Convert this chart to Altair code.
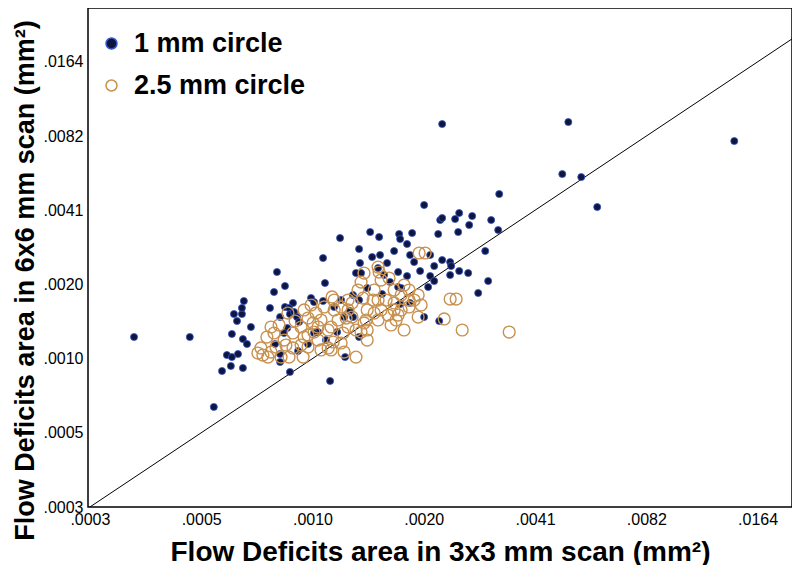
import altair as alt
import pandas as pd

# ---------------- data (mm^2) ----------------
series_names = ["1 mm circle", "2.5 mm circle"]
tick_values = [0.000256, 0.000512, 0.001024, 0.002048, 0.004096, 0.008192, 0.016384]
x_domain = [0.000253, 0.0203]
y_domain = [0.000256, 0.0271]
identity_vals = [0.00025, 0.03]

one_mm_x = [
    0.000477, 0.000583, 0.000601, 0.000620, 0.000616, 0.000644, 0.000664, 0.000620, 0.000640, 0.000628,
    0.000660, 0.000660, 0.000668, 0.000664, 0.000681, 0.000698, 0.000786, 0.000806, 0.000821, 0.000863,
    0.000863, 0.000907, 0.000885, 0.000837, 0.000890, 0.000913, 0.000930, 0.000942, 0.000875, 0.000858,
    0.000811, 0.000837, 0.000837, 0.000890, 0.000936, 0.000996, 0.001015, 0.001034, 0.001094, 0.001107,
    0.001094, 0.001060, 0.001034, 0.001114, 0.001143, 0.001216, 0.001172, 0.001224, 0.001247, 0.001194,
    0.001255, 0.001369, 0.001377, 0.001343, 0.001386, 0.001318, 0.001440, 0.001369, 0.001294, 0.001318,
    0.001369, 0.001467, 0.001485, 0.001560, 0.001551, 0.001541, 0.001630, 0.001600, 0.001580, 0.001661,
    0.001703, 0.001757, 0.001768, 0.001846, 0.001905, 0.001881, 0.001746, 0.001846, 0.001746, 0.001779,
    0.001929, 0.002002, 0.002132, 0.002186, 0.002132, 0.002186, 0.002105, 0.002053, 0.002241, 0.002269,
    0.002297, 0.002490, 0.002554, 0.002769, 0.002718, 0.002538, 0.002297, 0.002414, 0.002414, 0.002554,
    0.002701, 0.002429, 0.001768, 0.001881, 0.002053, 0.002255, 0.002875, 0.003059, 0.003004, 0.003117,
    0.003256, 0.000337, 0.000554, 0.002297, 0.005040, 0.004854, 0.005463, 0.006034, 0.014170, 0.003277,
]
one_mm_y = [
    0.001253, 0.000912, 0.001059, 0.001039, 0.000956, 0.001069, 0.000938, 0.001289, 0.001455, 0.001553,
    0.001553, 0.001644, 0.001754, 0.001229, 0.001174, 0.001376, 0.001644, 0.001908, 0.002300, 0.002018,
    0.001659, 0.001722, 0.001644, 0.001510, 0.001553, 0.001583, 0.001510, 0.001442, 0.001363, 0.001301,
    0.001174, 0.001069, 0.000992, 0.000904, 0.001100, 0.001174, 0.001803, 0.001737, 0.002621, 0.002075,
    0.001754, 0.001313, 0.001301, 0.001218, 0.000831, 0.003160, 0.001659, 0.001770, 0.001510, 0.001313,
    0.001039, 0.002851, 0.002501, 0.002278, 0.002278, 0.001855, 0.001981, 0.001770, 0.001598, 0.001510,
    0.001253, 0.003341, 0.002646, 0.002696, 0.003189, 0.002387, 0.002501, 0.002236, 0.001872, 0.002094,
    0.002798, 0.003280, 0.003130, 0.002988, 0.003310, 0.002696, 0.002300, 0.002215, 0.001999, 0.001981,
    0.002524, 0.002321, 0.002696, 0.002432, 0.002215, 0.002114, 0.001999, 0.004300, 0.003280, 0.003738,
    0.003809, 0.003773, 0.003990, 0.003879, 0.003568, 0.003341, 0.002572, 0.002524, 0.002236, 0.002321,
    0.002278, 0.002432, 0.001706, 0.001722, 0.001510, 0.001455, 0.001890, 0.002114, 0.002798, 0.003738,
    0.003404, 0.001253, 0.000652, 0.009165, 0.009337, 0.005743, 0.005584, 0.004220, 0.007818, 0.004765,
]

two5_mm_x = [
    0.000729, 0.000752, 0.000776, 0.000743, 0.000771, 0.000806, 0.000832, 0.000816, 0.000791, 0.000842,
    0.000885, 0.000907, 0.000907, 0.000919, 0.000879, 0.000954, 0.000966, 0.000996, 0.000996, 0.001028,
    0.001047, 0.001060, 0.001080, 0.001129, 0.001150, 0.001165, 0.001129, 0.001101, 0.001157, 0.001172,
    0.001201, 0.001239, 0.001247, 0.001343, 0.001278, 0.001310, 0.001360, 0.001386, 0.001403, 0.001440,
    0.001412, 0.001440, 0.001386, 0.001494, 0.001504, 0.001551, 0.001570, 0.001650, 0.001570, 0.001541,
    0.001640, 0.001671, 0.001703, 0.001779, 0.001746, 0.001812, 0.001869, 0.001929, 0.002015, 0.001978,
    0.001869, 0.001990, 0.002066, 0.001978, 0.002326, 0.002414, 0.002506, 0.002602, 0.003487, 0.000972,
    0.000996, 0.001060, 0.001224, 0.001440, 0.001541, 0.001703, 0.001812, 0.001412, 0.001541, 0.000791,
    0.000858, 0.000972, 0.001034, 0.001150, 0.001278, 0.001310, 0.001172, 0.001278, 0.001224, 0.001431,
    0.001504, 0.001703, 0.001869, 0.001779, 0.000954, 0.001080, 0.001263, 0.001015, 0.001343, 0.001620,
    0.001724, 0.000868,
]
two5_mm_y = [
    0.001079, 0.001059, 0.001039, 0.001131, 0.001253, 0.001301, 0.001402, 0.001141, 0.001089, 0.001039,
    0.001039, 0.001131, 0.001301, 0.001455, 0.001568, 0.001376, 0.001039, 0.001141, 0.001277, 0.001429,
    0.001568, 0.001218, 0.001110, 0.001131, 0.001110, 0.001196, 0.001338, 0.001659, 0.001822, 0.001613,
    0.001469, 0.001301, 0.001089, 0.001039, 0.001613, 0.001722, 0.001944, 0.002094, 0.001803, 0.001613,
    0.001429, 0.001338, 0.001313, 0.001770, 0.001944, 0.002300, 0.002134, 0.002174, 0.001613, 0.001469,
    0.001539, 0.001402, 0.001722, 0.001855, 0.001539, 0.001338, 0.001944, 0.001770, 0.001690, 0.001510,
    0.001659, 0.002747, 0.002747, 0.001855, 0.001483, 0.001787, 0.001787, 0.001338, 0.001313, 0.001613,
    0.001496, 0.001376, 0.001185, 0.001218, 0.001770, 0.001944, 0.002037, 0.002278, 0.002409, 0.001376,
    0.001218, 0.001253, 0.001313, 0.001376, 0.001376, 0.001510, 0.001770, 0.001770, 0.001659, 0.001469,
    0.001568, 0.001613, 0.001770, 0.001613, 0.001163, 0.001469, 0.001496, 0.001690, 0.001338, 0.001770,
    0.001469, 0.001163,
]

# ---------------- tables ----------------
dots_df = pd.DataFrame({"x": one_mm_x, "y": one_mm_y, "series": series_names[0]})
rings_df = pd.DataFrame({"x": two5_mm_x, "y": two5_mm_y, "series": series_names[1]})
ident = pd.DataFrame({"x": identity_vals, "y": identity_vals})

FONT = "Liberation Sans"
label_expr = "substring(format(datum.value, '.4f'), 1)"

x_scale = alt.Scale(type="log", base=2, domain=x_domain, nice=False)
y_scale = alt.Scale(type="log", base=2, domain=y_domain, nice=False)

x_axis = alt.Axis(
    title="Flow Deficits area in 3x3 mm scan (mm²)", values=tick_values, labelExpr=label_expr,
    grid=False, ticks=False, domain=False, labelFont=FONT, labelFontSize=16, labelColor="black",
    labelPadding=4, titleFont=FONT, titleFontSize=28, titleFontWeight="bold", titleColor="black",
    titleY=53, titleBaseline="alphabetic", labelFlush=False,
)
y_axis = alt.Axis(
    title="Flow Deficits area in 6x6 mm scan (mm²)", values=tick_values, labelExpr=label_expr,
    grid=False, ticks=False, domain=False, labelFont=FONT, labelFontSize=16, labelColor="black",
    labelPadding=5, titleFont=FONT, titleFontSize=27, titleFontWeight="bold", titleColor="black",
    titleX=-55, titleY=272, titleBaseline="alphabetic", labelFlush=False,
)

fill_scale = alt.Scale(domain=series_names, range=["#0e1640", "#ffffff00"])
stroke_scale = alt.Scale(domain=series_names, range=["#3556c8", "#c8914f"])
legend = alt.Legend(title=None, orient="none", legendX=10, legendY=22,
                    labelFont=FONT, labelFontSize=27, labelFontWeight="bold",
                    labelColor="black", labelLimit=0, symbolType="circle", symbolSize=120,
                    symbolStrokeWidth=1.5, rowPadding=14, labelOffset=9, padding=0)

def scatter(df, size, sw):
    return alt.Chart(df).mark_circle(opacity=1, size=size, strokeWidth=sw).encode(
        x=alt.X("x:Q", scale=x_scale, axis=x_axis),
        y=alt.Y("y:Q", scale=y_scale, axis=y_axis),
        fill=alt.Fill("series:N", scale=fill_scale, legend=legend),
        stroke=alt.Stroke("series:N", scale=stroke_scale, legend=legend),
    )

dots = scatter(dots_df, 50, 0.8)
rings = scatter(rings_df, 140, 1.4)

line = alt.Chart(ident).mark_line(color="black", strokeWidth=1, clip=True).encode(
    x=alt.X("x:Q", scale=x_scale, axis=x_axis),
    y=alt.Y("y:Q", scale=y_scale, axis=y_axis),
)

chart = alt.layer(line, dots, rings).properties(
    width=704, height=499,
    autosize=alt.AutoSizeParams(type="none"),
    padding={"left": 80, "top": 0, "right": 0, "bottom": 58},
    background="white",
).configure_view(stroke="black", strokeWidth=1.5)

chart.save("out.html", embed_options={"renderer": "svg", "actions": False})
